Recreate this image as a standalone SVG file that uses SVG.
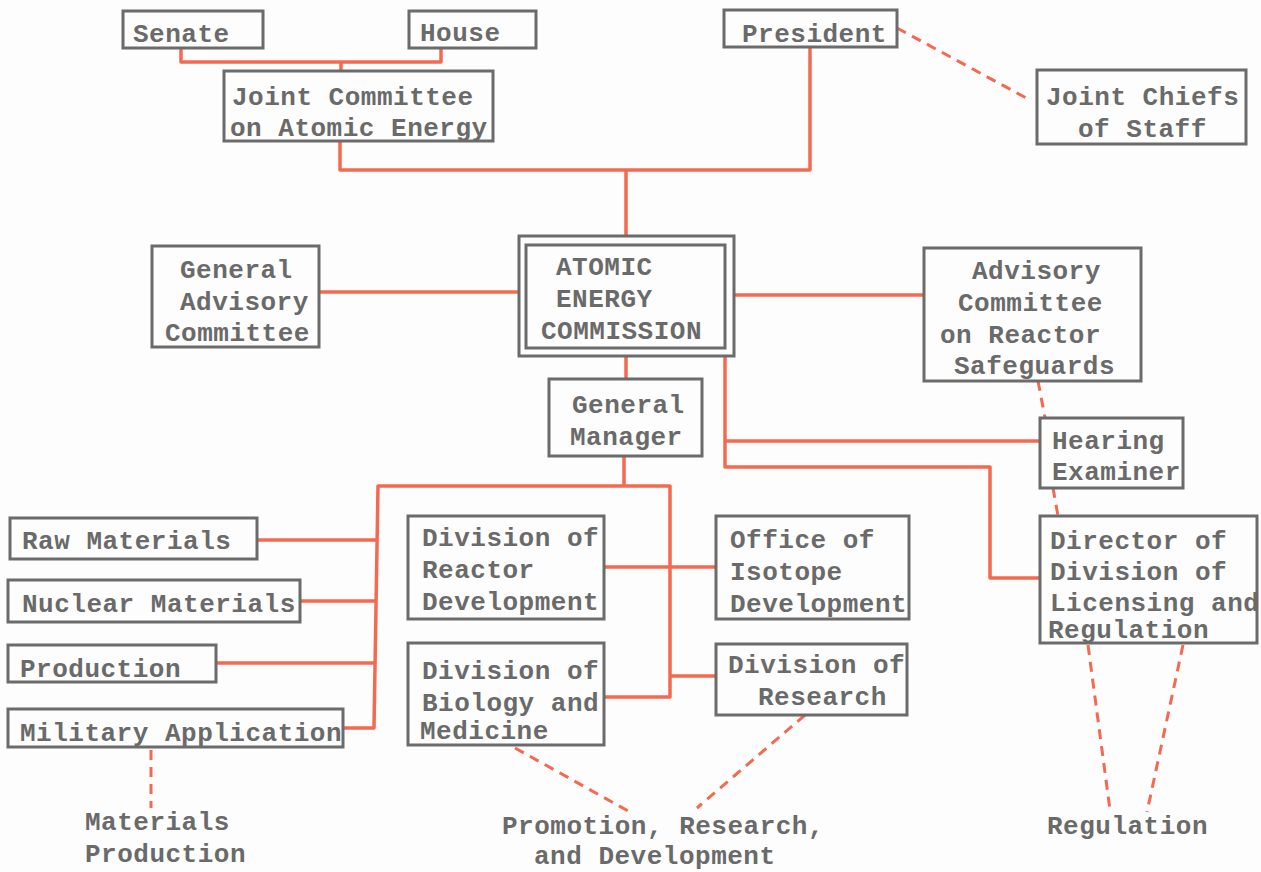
<svg xmlns="http://www.w3.org/2000/svg" width="1261" height="872" viewBox="0 0 1261 872">
<style>
.box{fill:none;stroke:#6b6b6b;stroke-width:3}
.t{font-family:"Liberation Mono","DejaVu Sans Mono",monospace;font-size:26px;font-weight:bold;letter-spacing:0.5px;fill:#6a6a6a}
.ln{fill:none;stroke:#f4694f;stroke-width:3.5;stroke-linejoin:round}
.dl{fill:none;stroke:#f4694f;stroke-width:3;stroke-dasharray:10 7}
</style>
<rect width="1261" height="872" fill="#fdfdfd"/>
<g id="connectors">
<path class="ln" d="M181 48V62H441V48M341 62V71"/>
<path class="ln" d="M340 141V170H810V47M626 170V236"/>
<path class="ln" d="M319 292H519"/>
<path class="ln" d="M734 295H924"/>
<path class="ln" d="M626 356V379"/>
<path class="ln" d="M725 356V467H990V578H1040M725 441H1040"/>
<path class="ln" d="M624 456V486M343 728H374L378 486H670V697H604M670 676H716M604 567H716"/>
<path class="ln" d="M257 540H376M300 601H376M216 663H375"/>
<path class="dl" d="M897 28L1030 100"/>
<path class="dl" d="M1038 381L1045 418M1053 488L1058 516"/>
<path class="dl" d="M1088 645L1110 810M1183 645L1147 812"/>
<path class="dl" d="M515 748L630 812M805 715L697 808"/>
<path class="dl" d="M151 750V808"/>
</g>
<g id="senate"><rect class="box" x="123" y="11" width="140" height="37"/><text class="t" x="133" y="42">Senate</text></g>
<g id="house"><rect class="box" x="409" y="11" width="127" height="37"/><text class="t" x="420" y="41">House</text></g>
<g id="president"><rect class="box" x="724" y="10" width="173" height="37"/><text class="t" x="742" y="42">President</text></g>
<g id="jcae"><rect class="box" x="224" y="71" width="269" height="70"/><text class="t" x="232" y="105">Joint Committee</text><text class="t" x="230" y="136">on Atomic Energy</text></g>
<g id="jcs"><rect class="box" x="1037" y="70" width="209" height="74"/><text class="t" x="1046" y="105">Joint Chiefs</text><text class="t" x="1078" y="137">of Staff</text></g>
<g id="gac"><rect class="box" x="152" y="246" width="167" height="101"/><text class="t" x="180" y="278">General</text><text class="t" x="180" y="310">Advisory</text><text class="t" x="165" y="341">Committee</text></g>
<g id="aec"><rect class="box" x="519" y="236" width="215" height="120"/><rect class="box" x="526" y="245" width="199" height="103"/><text class="t" x="556" y="275">ATOMIC</text><text class="t" x="556" y="307">ENERGY</text><text class="t" x="541" y="339">COMMISSION</text></g>
<g id="acrs"><rect class="box" x="924" y="248" width="217" height="133"/><text class="t" x="972" y="279">Advisory</text><text class="t" x="958" y="311">Committee</text><text class="t" x="940" y="343">on Reactor</text><text class="t" x="954" y="374">Safeguards</text></g>
<g id="gm"><rect class="box" x="549" y="379" width="153" height="77"/><text class="t" x="572" y="413">General</text><text class="t" x="570" y="445">Manager</text></g>
<g id="hearing"><rect class="box" x="1040" y="418" width="143" height="70"/><text class="t" x="1052" y="449">Hearing</text><text class="t" x="1052" y="480">Examiner</text></g>
<g id="director"><rect class="box" x="1040" y="516" width="217" height="127"/><text class="t" x="1050" y="549">Director of</text><text class="t" x="1050" y="580">Division of</text><text class="t" x="1050" y="611">Licensing and</text><text class="t" x="1048" y="638">Regulation</text></g>
<g id="raw"><rect class="box" x="10" y="518" width="247" height="41"/><text class="t" x="22" y="549">Raw Materials</text></g>
<g id="nuclear"><rect class="box" x="8" y="580" width="292" height="42"/><text class="t" x="22" y="612">Nuclear Materials</text></g>
<g id="production"><rect class="box" x="8" y="645" width="208" height="37"/><text class="t" x="20" y="677">Production</text></g>
<g id="military"><rect class="box" x="8" y="709" width="335" height="38"/><text class="t" x="20" y="741">Military Application</text></g>
<g id="reactor"><rect class="box" x="408" y="516" width="196" height="103"/><text class="t" x="422" y="546">Division of</text><text class="t" x="422" y="578">Reactor</text><text class="t" x="422" y="610">Development</text></g>
<g id="biology"><rect class="box" x="408" y="643" width="196" height="102"/><text class="t" x="422" y="679">Division of</text><text class="t" x="422" y="711">Biology and</text><text class="t" x="420" y="739">Medicine</text></g>
<g id="isotope"><rect class="box" x="716" y="516" width="193" height="103"/><text class="t" x="730" y="548">Office of</text><text class="t" x="730" y="580">Isotope</text><text class="t" x="730" y="612">Development</text></g>
<g id="research"><rect class="box" x="716" y="644" width="191" height="71"/><text class="t" x="728" y="673">Division of</text><text class="t" x="758" y="705">Research</text></g>
<g id="label-materials"><text class="t" x="85" y="830">Materials</text><text class="t" x="85" y="862">Production</text></g>
<g id="label-promotion"><text class="t" x="502" y="834">Promotion, Research,</text><text class="t" x="534" y="864">and Development</text></g>
<g id="label-regulation"><text class="t" x="1047" y="834">Regulation</text></g>
</svg>
